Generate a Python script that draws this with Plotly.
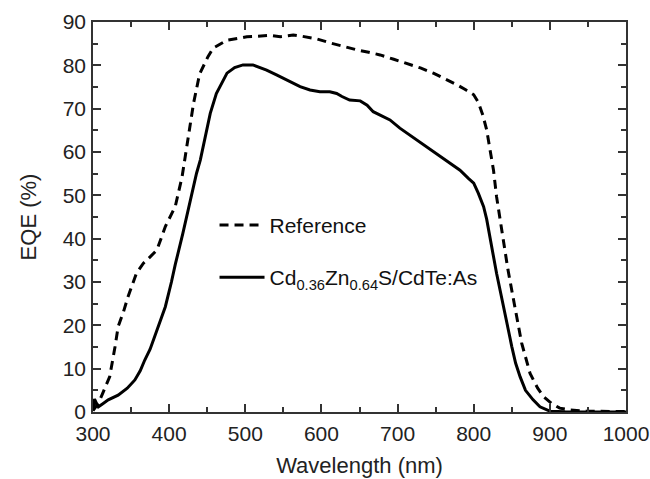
import plotly.graph_objects as go

wl_ref = [300, 303, 307, 312, 317, 322, 329, 333, 340, 346, 357, 366, 375, 384, 395, 408, 417, 425, 432, 440,
          451, 458, 467, 476, 490, 502, 515, 532, 546, 563, 575, 594, 611, 625, 633, 648, 662, 677, 695, 712,
          730, 747, 763, 778, 790, 800, 806, 812, 817, 822, 826, 830, 837, 845, 854, 863, 874, 884, 892, 902,
          913, 925, 948, 970, 1000]
eqe_ref = [0.3, 1, 2, 4, 6, 8.2, 15.1, 19.7, 23.1, 26.6, 32, 34.3, 35.8, 37.4, 42.8, 47.4, 54.3, 63.5, 71.2, 78,
           82, 84, 85, 85.8, 86.2, 86.6, 86.7, 86.9, 86.6, 87, 86.7, 86.1, 85.2, 84.5, 84.2, 83.5, 83, 82.4, 81.4, 80.5,
           79.4, 78.2, 76.9, 75.5, 74.3, 73.2, 71.5, 68.5, 65.1, 59.7, 55.8, 49.7, 42, 32.8, 24.3, 15.9, 8.9, 5.5, 3.5, 2,
           0.9, 0.5, 0.2, 0.1, 0.1]

wl_cd = [300, 302, 305, 307, 312, 320, 333, 345, 355, 362, 368, 375, 381, 388, 395, 403, 408, 418, 428, 436,
         441, 449, 454, 462, 467, 476, 486, 497, 510, 520, 528, 541, 554, 563, 572, 585, 598, 611, 620, 627,
         637, 651, 660, 668, 680, 690, 703, 720, 738, 753, 769, 782, 793, 800, 806, 813, 817, 821, 826, 830,
         835, 839, 844, 850, 855, 861, 868, 878, 887, 900, 920, 950, 1000]
eqe_cd = [0.5, 3, 1.8, 1.2, 1.8, 2.8, 3.9, 5.5, 7.4, 9.5, 12, 14.5, 17.4, 20.8, 24.3, 30, 34, 41.2, 49, 55.1,
          58.2, 65, 68.9, 73.5, 75.1, 78.2, 79.5, 80.1, 80.1, 79.5, 78.9, 77.8, 76.6, 75.8, 75.1, 74.3, 73.9, 73.9, 73.5, 72.8,
          72, 71.8, 70.8, 69.3, 68.3, 67.4, 65.5, 63.4, 61.2, 59.4, 57.4, 55.8, 53.9, 52.8, 50.5, 47.4, 44.5, 40.5, 36, 32,
          27.8, 24.3, 20, 15.1, 11.3, 8.1, 5, 2.8, 1.2, 0.2, 0.05, 0, 0]

x_ticks = [300, 400, 500, 600, 700, 800, 900, 1000]
y_ticks = [0, 10, 20, 30, 40, 50, 60, 70, 80, 90]

FONT = "Liberation Sans, Arial, sans-serif"

fig = go.Figure()
fig.add_trace(go.Scatter(x=wl_ref, y=eqe_ref, mode="lines", name="Reference",
                         legendgroup="a",
                         line=dict(color="black", width=3, dash="9px,6px")))
fig.add_trace(go.Scatter(x=wl_cd, y=eqe_cd, mode="lines",
                         name="Cd<sub>0.36</sub>Zn<sub>0.64</sub>S/CdTe:As",
                         legendgroup="b",
                         line=dict(color="black", width=3)))

axis_common = dict(showline=True, linecolor="#333", linewidth=1.5, mirror="ticks",
                   ticks="inside", ticklen=8, tickwidth=1.5, tickcolor="#333",
                   showgrid=False, zeroline=False, automargin=False,
                   tickfont=dict(family=FONT, size=21, color="#222"))

fig.update_layout(
    width=650, height=479,
    margin=dict(l=93, r=24, t=22, b=67),
    paper_bgcolor="white", plot_bgcolor="white",
    font=dict(family=FONT, color="#222"),
    xaxis=dict(range=[300, 1000], tickvals=x_ticks, ticklabelstandoff=2,
               title=dict(text="Wavelength (nm)", font=dict(family=FONT, size=22), standoff=14),
               minor=dict(dtick=50, tick0=300, ticks="inside", ticklen=5, tickwidth=1.5, tickcolor="#333"),
               **axis_common),
    yaxis=dict(range=[0, 90], tickvals=y_ticks, ticklabelstandoff=1,
               title=dict(text="EQE (%)", font=dict(family=FONT, size=22), standoff=20),
               minor=dict(dtick=5, tick0=0, ticks="inside", ticklen=5, tickwidth=1.5, tickcolor="#333"),
               **axis_common),
    legend=dict(x=0.228, y=0.412, xanchor="left", yanchor="middle",
                bgcolor="rgba(0,0,0,0)", borderwidth=0,
                font=dict(family=FONT, size=21, color="#111"),
                tracegroupgap=22, itemwidth=45),
    showlegend=True,
)

fig.write_html("out.html")
